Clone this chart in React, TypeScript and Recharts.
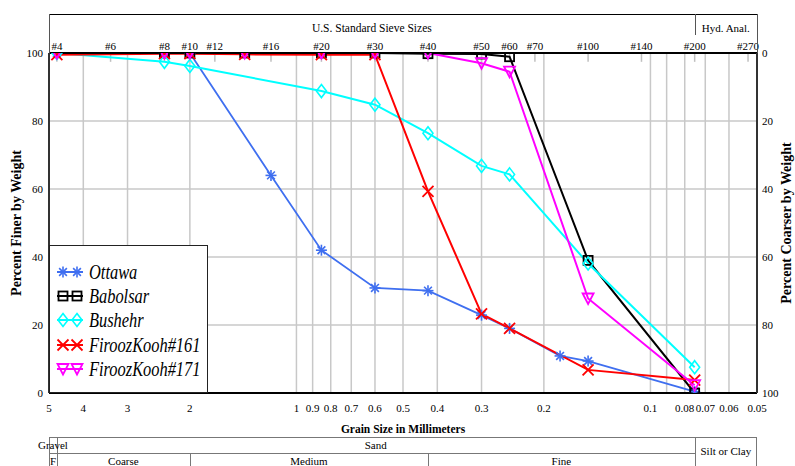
import React from 'react';
import { ComposedChart, Line, XAxis, YAxis, CartesianGrid, ReferenceLine, Legend } from 'recharts';

const FONT = '"Liberation Serif", "Times New Roman", Times, serif';

// U.S. standard sieves: opening (mm) and label
const sieveOpenings = [4.75, 3.35, 2.36, 2.0, 1.7, 1.18, 0.85, 0.6, 0.425, 0.3, 0.25, 0.212, 0.15, 0.106, 0.075, 0.053];
const sieveLabels = ['#4', '#6', '#8', '#10', '#12', '#16', '#20', '#30', '#40', '#50', '#60', '#70', '#100', '#140', '#200', '#270'];

// grain size axis
const grainTicks = [5, 4, 3, 2, 1, 0.9, 0.8, 0.7, 0.6, 0.5, 0.4, 0.3, 0.2, 0.1, 0.09, 0.08, 0.07, 0.06, 0.05];
const grainTickLabels = ['5', '4', '3', '2', '1', '0.9', '0.8', '0.7', '0.6', '0.5', '0.4', '0.3', '0.2', '0.1', '', '0.08', '0.07', '0.06', '0.05'];
const percentTicks = [0, 20, 40, 60, 80, 100];

// series: grain size (mm) and percent finer
const ottawaSize = [4.75, 2.36, 2.0, 1.18, 0.85, 0.6, 0.425, 0.3, 0.25, 0.18, 0.15, 0.075];
const ottawaFiner = [100, 100, 100, 64, 42, 30.9, 30.1, 22.9, 19.0, 10.9, 9.4, 0.4];

const babolsarSize = [2.36, 2.0, 1.4, 0.85, 0.6, 0.425, 0.3, 0.25, 0.15, 0.075];
const babolsarFiner = [100, 100, 100, 100, 100, 99.8, 99.7, 98.9, 39, 0];

const bushehrSize = [4.75, 2.36, 2.0, 0.85, 0.6, 0.425, 0.3, 0.25, 0.15, 0.075];
const bushehrFiner = [100, 97.4, 96.2, 88.8, 84.8, 76.4, 66.8, 64.3, 38.1, 7.6];

const fk161Size = [4.75, 2.36, 2.0, 1.4, 0.85, 0.6, 0.425, 0.3, 0.25, 0.15, 0.075];
const fk161Finer = [99.5, 99.8, 99.8, 99.6, 99.5, 99.5, 59.3, 23.3, 19.0, 6.8, 3.8];

const fk171Size = [4.75, 2.36, 2.0, 1.4, 0.85, 0.6, 0.425, 0.3, 0.25, 0.15, 0.075];
const fk171Finer = [100, 100, 100, 100, 100, 100, 100, 97, 94.5, 27.8, 2.3];

const seriesNames = ['Ottawa', 'Babolsar', 'Bushehr', 'FiroozKooh#161', 'FiroozKooh#171'];
const seriesColors = ['#3f6ff0', '#000000', '#00ffff', '#ff0000', '#ff00ff'];
const seriesMarkers = ['asterisk', 'square', 'diamond', 'cross', 'triangle'];
const seriesSizes = [ottawaSize, babolsarSize, bushehrSize, fk161Size, fk171Size];
const seriesFiner = [ottawaFiner, babolsarFiner, bushehrFiner, fk161Finer, fk171Finer];

// layout
const W = 795;
const H = 466;
const PLOT_L = 49;
const PLOT_R = 757;
const PLOT_T = 53;
const HEAD_T = 14;
const TABLE_T = 437;
const TABLE_MID = 453;
const xPos = (d: number) => PLOT_L + ((PLOT_R - PLOT_L) * Math.log10(5 / d)) / Math.log10(5 / 0.05);

function marker(kind: string, cx: number, cy: number, color: string, key?: string | number) {
  switch (kind) {
    case 'asterisk': {
      const r = 5.5;
      const d = r * 0.7071;
      return (
        <g key={key} stroke={color} strokeWidth={1.6}>
          <line x1={cx - r} y1={cy} x2={cx + r} y2={cy} />
          <line x1={cx} y1={cy - r} x2={cx} y2={cy + r} />
          <line x1={cx - d} y1={cy - d} x2={cx + d} y2={cy + d} />
          <line x1={cx - d} y1={cy + d} x2={cx + d} y2={cy - d} />
        </g>
      );
    }
    case 'square':
      return <rect key={key} x={cx - 4.5} y={cy - 4.5} width={9} height={9} fill="none" stroke={color} strokeWidth={1.8} />;
    case 'diamond':
      return (
        <polygon
          key={key}
          points={`${cx},${cy - 6.5} ${cx + 5},${cy} ${cx},${cy + 6.5} ${cx - 5},${cy}`}
          fill="none"
          stroke={color}
          strokeWidth={1.6}
        />
      );
    case 'cross': {
      const r = 5.5;
      return (
        <g key={key} stroke={color} strokeWidth={1.8}>
          <line x1={cx - r} y1={cy - r} x2={cx + r} y2={cy + r} />
          <line x1={cx - r} y1={cy + r} x2={cx + r} y2={cy - r} />
        </g>
      );
    }
    default:
      return (
        <polygon
          key={key}
          points={`${cx - 5.5},${cy - 5} ${cx + 5.5},${cy - 5} ${cx},${cy + 5.5}`}
          fill="none"
          stroke={color}
          strokeWidth={1.8}
        />
      );
  }
}

function LegendBox() {
  return (
    <div
      style={{
        width: 159,
        height: 148,
        boxSizing: 'border-box',
        border: '1.5px solid #222',
        background: '#fff',
        paddingTop: 14,
        fontFamily: FONT,
      }}
    >
      {seriesNames.map((name, i) => (
        <div key={name} style={{ height: 24.2, display: 'flex', alignItems: 'center', position: 'relative' }}>
          <svg width={28} height={16} style={{ position: 'absolute', left: 6, top: 4 }}>
            <line x1={1} y1={8} x2={27} y2={8} stroke={seriesColors[i]} strokeWidth={2} />
            {marker(seriesMarkers[i], 7, 8, seriesColors[i])}
            {marker(seriesMarkers[i], 21, 8, seriesColors[i])}
          </svg>
          <span
            style={{
              position: 'absolute',
              left: 39,
              top: 0,
              fontSize: 20,
              fontStyle: 'italic',
              lineHeight: '24px',
              whiteSpace: 'nowrap',
              transform: 'scaleX(0.82)',
              transformOrigin: 'left center',
            }}
          >
            {name}
          </span>
        </div>
      ))}
    </div>
  );
}

const abs = (s: React.CSSProperties): React.CSSProperties => ({ position: 'absolute', ...s });

function TextBox({ left, right, cy, children, size = 11 }: { left: number; right: number; cy: number; children: React.ReactNode; size?: number }) {
  return (
    <div
      style={abs({
        left,
        width: right - left,
        top: cy - 8,
        height: 16,
        lineHeight: '16px',
        textAlign: 'center',
        fontSize: size,
        whiteSpace: 'nowrap',
        display: 'flex',
        justifyContent: 'center',
      })}
    >
      <span>{children}</span>
    </div>
  );
}

export default function App() {
  const axisTick = { fontSize: 11, fill: '#000', fontFamily: FONT };
  const xGS = xPos(4.75);
  const xCM = xPos(2.0);
  const xMF = xPos(0.425);
  const xSS = xPos(0.075);
  const lineGrey = '1px solid #777';
  return (
    <div style={{ position: 'absolute', left: 0, top: 0, width: W, height: H, overflow: 'hidden', background: '#fff', fontFamily: FONT, color: '#000' }}>
      <ComposedChart width={W} height={H} margin={{ top: HEAD_T, right: 0, bottom: 30, left: 0 }} style={{ fontFamily: FONT }}>
        <CartesianGrid xAxisId="bottom" yAxisId="left" stroke="#c8c8c8" strokeWidth={1.5} />
        <XAxis
          xAxisId="bottom"
          dataKey="size"
          type="number"
          scale="log"
          domain={[0.05, 5]}
          allowDataOverflow
          reversed
          ticks={grainTicks}
          interval={0}
          tickFormatter={(v: number) => grainTickLabels[grainTicks.indexOf(v)] ?? ''}
          tick={axisTick}
          tickLine={false}
          tickSize={0}
          tickMargin={11}
          axisLine={{ stroke: '#000', strokeWidth: 2 }}
          height={43}
          label={{ value: 'Grain Size in Millimeters', position: 'insideBottom', offset: 3, style: { fontSize: 11.5, fontWeight: 'bold', fill: '#000', fontFamily: FONT } }}
        />
        <XAxis
          xAxisId="top"
          orientation="top"
          dataKey="size"
          type="number"
          scale="log"
          domain={[0.05, 5]}
          allowDataOverflow
          reversed
          ticks={sieveOpenings}
          interval={0}
          tickFormatter={(v: number) => sieveLabels[sieveOpenings.indexOf(v)] ?? ''}
          tick={axisTick}
          tickLine={false}
          tickSize={0}
          tickMargin={3}
          axisLine={{ stroke: '#000', strokeWidth: 2 }}
          height={PLOT_T - HEAD_T}
        />
        <YAxis
          yAxisId="left"
          type="number"
          domain={[0, 100]}
          allowDataOverflow
          ticks={percentTicks}
          interval={0}
          tick={axisTick}
          tickLine={false}
          tickSize={0}
          tickMargin={6}
          axisLine={{ stroke: '#333', strokeWidth: 2 }}
          width={PLOT_L}
          label={{ value: 'Percent Finer by Weight', angle: -90, position: 'insideLeft', offset: 16, style: { textAnchor: 'middle', fontSize: 14, fontWeight: 'bold', fill: '#000', fontFamily: FONT } }}
        />
        <YAxis
          yAxisId="right"
          orientation="right"
          type="number"
          domain={[0, 100]}
          allowDataOverflow
          reversed
          ticks={percentTicks}
          interval={0}
          tick={axisTick}
          tickLine={false}
          tickSize={0}
          tickMargin={5}
          axisLine={{ stroke: '#333', strokeWidth: 2 }}
          width={W - PLOT_R}
          label={{ value: 'Percent Coarser by Weight', angle: -90, position: 'insideRight', offset: 9, style: { textAnchor: 'middle', fontSize: 14, fontWeight: 'bold', fill: '#000', fontFamily: FONT } }}
        />
        {sieveOpenings.map((s) => (
          <ReferenceLine
            key={`sv-${s}`}
            xAxisId="bottom"
            yAxisId="left"
            segment={[{ x: s, y: 100 }, { x: s, y: 97.4 }]}
            stroke="#c0c0c0"
            strokeWidth={1.5}
          />
        ))}
        {seriesNames.map((name, i) => (
          <Line
            key={name}
            name={name}
            xAxisId="bottom"
            yAxisId="left"
            data={seriesSizes[i].map((s, j) => ({ size: s, finer: seriesFiner[i][j] }))}
            dataKey="finer"
            type="linear"
            stroke={seriesColors[i]}
            strokeWidth={i === 0 ? 1.8 : 2}
            dot={(p: any) => marker(seriesMarkers[i], p.cx, p.cy, seriesColors[i], `${name}-${p.index}`)}
            activeDot={false}
            isAnimationActive={false}
          />
        ))}
        <Legend
          layout="vertical"
          align="center"
          verticalAlign="middle"
          wrapperStyle={{ left: PLOT_L, top: 245, width: 159, height: 148 }}
          content={() => <LegendBox />}
        />
      </ComposedChart>

      {/* header frame */}
      <div style={abs({ left: PLOT_L, top: HEAD_T, width: PLOT_R - PLOT_L, height: 0, borderTop: '1px solid #000' })} />
      <div style={abs({ left: PLOT_L - 0.5, top: HEAD_T, width: 0, height: PLOT_T - HEAD_T, borderLeft: '1px solid #555' })} />
      <div style={abs({ left: PLOT_R - 0.5, top: HEAD_T, width: 0, height: PLOT_T - HEAD_T, borderLeft: '1px solid #555' })} />
      <div style={abs({ left: xSS, top: HEAD_T, width: 0, height: 21, borderLeft: '1px solid #555' })} />
      <TextBox left={PLOT_L} right={xSS} cy={28} size={11.5}>U.S. Standard Sieve Sizes</TextBox>
      <TextBox left={xSS} right={PLOT_R} cy={28} size={11}>Hyd. Anal.</TextBox>

      {/* soil classification table */}
      <div style={abs({ left: PLOT_L, top: TABLE_T, width: PLOT_R - PLOT_L, height: 60, boxSizing: 'border-box', border: lineGrey })} />
      <div style={abs({ left: PLOT_L, top: TABLE_MID, width: xSS - PLOT_L, height: 0, borderTop: lineGrey })} />
      <div style={abs({ left: xGS, top: TABLE_T, width: 0, height: 40, borderLeft: lineGrey })} />
      <div style={abs({ left: xCM, top: TABLE_MID, width: 0, height: 30, borderLeft: lineGrey })} />
      <div style={abs({ left: xMF, top: TABLE_MID, width: 0, height: 30, borderLeft: lineGrey })} />
      <div style={abs({ left: xSS, top: TABLE_T, width: 0, height: 40, borderLeft: lineGrey })} />
      <TextBox left={PLOT_L - 20} right={xGS + 20} cy={445}>Gravel</TextBox>
      <TextBox left={xGS} right={xSS} cy={445}>Sand</TextBox>
      <TextBox left={xSS} right={PLOT_R} cy={451}>Silt or Clay</TextBox>
      <TextBox left={PLOT_L} right={xGS} cy={461}>F</TextBox>
      <TextBox left={xGS} right={xCM} cy={461}>Coarse</TextBox>
      <TextBox left={xCM} right={xMF} cy={461}>Medium</TextBox>
      <TextBox left={xMF} right={xSS} cy={461}>Fine</TextBox>
    </div>
  );
}
